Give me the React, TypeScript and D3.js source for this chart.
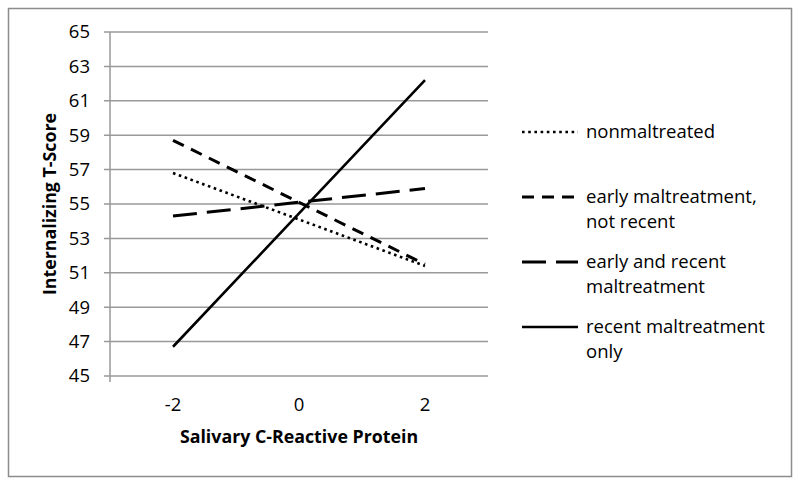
import React from "react";
import * as d3 from "d3";

const categories = ["-2", "0", "2"];
const nonmaltreated = [56.8, 54.1, 51.4];
const earlyNotRecent = [58.7, 55.1, 51.5];
const earlyAndRecent = [54.3, 55.1, 55.9];
const recentOnly = [46.7, 54.45, 62.2];
const yTicks = [45, 47, 49, 51, 53, 55, 57, 59, 61, 63, 65];
const seriesNames = [
  ["nonmaltreated"],
  ["early maltreatment,", "not recent"],
  ["early and recent", "maltreatment"],
  ["recent maltreatment", "only"],
];

const W = 800;
const H = 485;
const left = 110;
const right = 488;
const top = 32;
const bottom = 376;
const font = "'Open Sans', sans-serif";

export default function App() {
  const x = d3.scaleBand<string>().domain(categories).range([left, right]);
  const y = d3.scaleLinear().domain([45, 65]).range([bottom, top]);
  const line = d3
    .line<number>()
    .x((_, i) => (x(categories[i]) as number) + x.bandwidth() / 2)
    .y((d) => y(d));

  const series = [
    { values: nonmaltreated, dash: "2.6,3.6", width: 2.6 },
    { values: earlyNotRecent, dash: "12,8", width: 3 },
    { values: earlyAndRecent, dash: "24,10", width: 3 },
    { values: recentOnly, dash: null, width: 2.6 },
  ];
  const legendY = [132, 197, 262, 327];

  return (
    <svg
      width={W}
      height={H}
      style={{ position: "absolute", left: 0, top: 0 }}
      fontFamily={font}
    >
      <rect x={0} y={0} width={W} height={H} fill="#fff" />
      <rect
        x={8.5}
        y={8.5}
        width={783}
        height={468}
        fill="none"
        stroke="#8c8c8c"
        strokeWidth={1.5}
      />
      {yTicks.map((t) => (
        <g key={t}>
          <line
            x1={left - 6}
            x2={right}
            y1={y(t)}
            y2={y(t)}
            stroke="#999"
            strokeWidth={1.5}
          />
          <text
            x={90}
            y={y(t)}
            dy="0.35em"
            textAnchor="end"
            fontSize={18.5}
            fill="#000"
          >
            {t}
          </text>
        </g>
      ))}
      <line
        x1={left}
        x2={left}
        y1={top}
        y2={bottom + 6}
        stroke="#999"
        strokeWidth={1.5}
      />
      {categories.map((c) => (
        <text
          key={c}
          x={(x(c) as number) + x.bandwidth() / 2}
          y={405}
          dy="0.35em"
          textAnchor="middle"
          fontSize={18.5}
        >
          {c}
        </text>
      ))}
      <text
        x={(left + right) / 2}
        y={437}
        dy="0.35em"
        textAnchor="middle"
        fontSize={17.8}
        fontWeight="bold"
      >
        Salivary C-Reactive Protein
      </text>
      <text
        transform={`translate(50,${(top + bottom) / 2}) rotate(-90)`}
        dy="0.35em"
        textAnchor="middle"
        fontSize={17.8}
        fontWeight="bold"
      >
        Internalizing T-Score
      </text>
      {series.map((s, i) => (
        <path
          key={i}
          d={line(s.values) as string}
          fill="none"
          stroke="#000"
          strokeWidth={s.width}
          strokeDasharray={s.dash ?? undefined}
        />
      ))}
      {series.map((s, i) => (
        <g key={"lg" + i}>
          <line
            x1={522}
            x2={578}
            y1={legendY[i]}
            y2={legendY[i]}
            stroke="#000"
            strokeWidth={s.width}
            strokeDasharray={s.dash ?? undefined}
          />
          {seriesNames[i].map((n, j) => (
            <text
              key={j}
              x={586}
              y={legendY[i] + j * 25}
              dy="0.35em"
              fontSize={18.5}
            >
              {n}
            </text>
          ))}
        </g>
      ))}
    </svg>
  );
}
